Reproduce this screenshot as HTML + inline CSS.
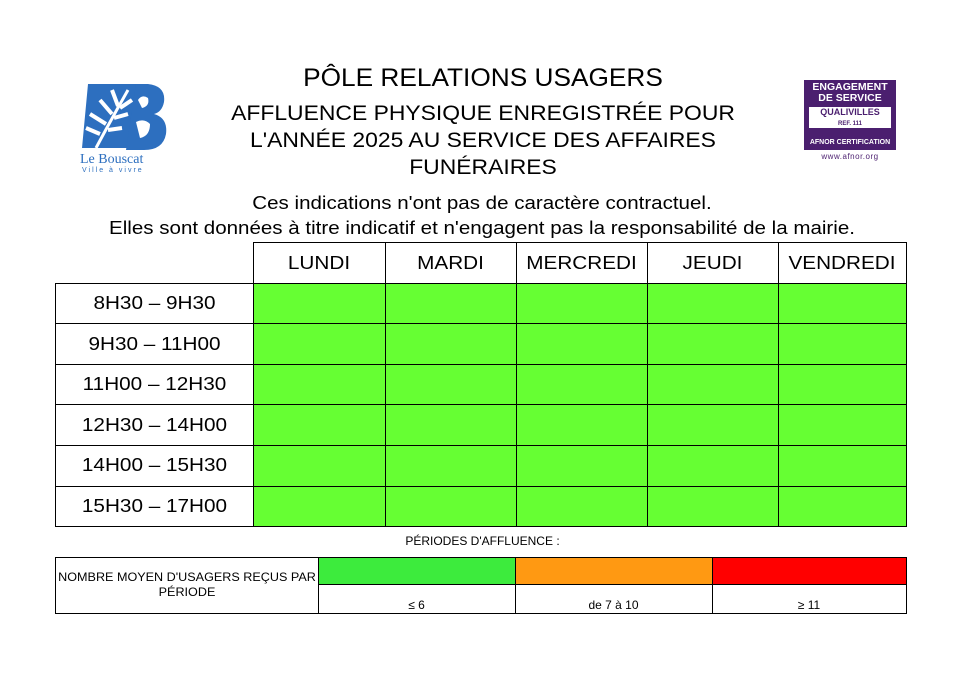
<!DOCTYPE html><html><head><meta charset="utf-8"><style>
body{margin:0;width:964px;height:681px;background:#fff;position:relative;font-family:"Liberation Sans",Arial,sans-serif;color:#000;overflow:hidden}
.a{position:absolute}
.c{position:absolute;text-align:center}
.s{transform:scaleX(1.12)}
.g{position:absolute;background:#66ff33}
.h{position:absolute;background:#000}
</style></head><body>
<div class="c" style="left:200px;width:566px;top:64px;font-size:25px;transform:scaleX(1.05)">PÔLE RELATIONS USAGERS</div>
<div class="c" style="left:200px;width:566px;top:100px;font-size:21.5px;line-height:27px;transform:scaleX(1.065)">AFFLUENCE PHYSIQUE ENREGISTRÉE POUR<br>L'ANNÉE 2025 AU SERVICE DES AFFAIRES<br>FUNÉRAIRES</div>
<div class="c" style="left:0;width:964px;top:190px;font-size:18.5px;line-height:25px;transform:scaleX(1.11)">Ces indications n'ont pas de caractère contractuel.<br>Elles sont données à titre indicatif et n'engagent pas la responsabilité de la mairie.</div>
<!-- logo left -->
<svg class="a" style="left:78px;top:78px" width="90" height="95">
<path d="M10 6 L60 6 L50 70 L4 70 Z" fill="#2d6fbf"/>
<path d="M58 6 L70 6 Q88 8 86 24 Q84 34 76 36 Q90 40 88 56 Q85 72 66 72 L48 72 Z" fill="#2d6fbf"/>
<path d="M60 22 Q64 16 70 20 Q72 28 64 30 Z M58 44 Q66 40 72 46 Q72 58 62 60 Z" fill="#fff"/>
<path d="M18 70 Q34 40 50 12" stroke="#fff" stroke-width="3" fill="none"/>
<path d="M22 56 L8 50 M28 46 L12 36 M34 36 L22 22 M40 28 L34 12 M30 52 L44 50 M36 40 L50 36 M42 30 L54 22" stroke="#fff" stroke-width="4"/>
<text x="2" y="85" font-family="Liberation Serif" font-size="14" fill="#2d6fbf">Le Bouscat</text>
<text x="4" y="94" font-family="Liberation Sans" font-size="7" fill="#2d6fbf" letter-spacing="2">Ville à vivre</text>
</svg>
<!-- afnor -->
<div class="a" style="left:804px;top:80px;width:92px;height:70px;background:#4b1f6f"></div>
<div class="c" style="left:804px;top:82px;width:92px;color:#fff;font-size:10.5px;font-weight:bold;line-height:11px">ENGAGEMENT<br>DE SERVICE</div>
<div class="c" style="left:809px;top:107px;width:82px;height:21px;background:#fff;color:#4b1f6f;font-size:9px;font-weight:bold;line-height:10px">QUALIVILLES<br><span style="font-size:6px">REF. 111</span></div>
<div class="c" style="left:804px;top:139px;width:92px;color:#fff;font-size:7px;font-weight:bold">AFNOR CERTIFICATION</div>
<div class="c" style="left:804px;top:152px;width:92px;color:#4b1f6f;font-size:8px;letter-spacing:0.5px">www.afnor.org</div>
<!-- main table -->
<div class="g" style="left:253px;top:283px;width:653px;height:243px"></div>
<div class="h" style="left:253px;top:242px;width:654px;height:1px"></div>
<div class="h" style="left:56px;top:283px;width:851px;height:1px"></div>
<div class="h" style="left:56px;top:323px;width:851px;height:1px"></div>
<div class="h" style="left:56px;top:364px;width:851px;height:1px"></div>
<div class="h" style="left:56px;top:404px;width:851px;height:1px"></div>
<div class="h" style="left:56px;top:445px;width:851px;height:1px"></div>
<div class="h" style="left:56px;top:486px;width:851px;height:1px"></div>
<div class="h" style="left:56px;top:526px;width:851px;height:1px"></div>
<div class="h" style="left:55px;top:283px;width:1px;height:244px"></div>
<div class="h" style="left:253px;top:242px;width:1px;height:285px"></div>
<div class="h" style="left:385px;top:242px;width:1px;height:285px"></div>
<div class="h" style="left:516px;top:242px;width:1px;height:285px"></div>
<div class="h" style="left:647px;top:242px;width:1px;height:285px"></div>
<div class="h" style="left:778px;top:242px;width:1px;height:285px"></div>
<div class="h" style="left:906px;top:242px;width:1px;height:285px"></div>
<div style="font-size:18.5px">
<div class="c s" style="left:253px;width:132px;top:252px">LUNDI</div>
<div class="c s" style="left:385px;width:131px;top:252px">MARDI</div>
<div class="c s" style="left:516px;width:131px;top:252px">MERCREDI</div>
<div class="c s" style="left:647px;width:131px;top:252px">JEUDI</div>
<div class="c s" style="left:778px;width:128px;top:252px">VENDREDI</div>
<div class="c s" style="left:56px;width:197px;top:292px">8H30 – 9H30</div>
<div class="c s" style="left:56px;width:197px;top:333px">9H30 – 11H00</div>
<div class="c s" style="left:56px;width:197px;top:373px">11H00 – 12H30</div>
<div class="c s" style="left:56px;width:197px;top:414px">12H30 – 14H00</div>
<div class="c s" style="left:56px;width:197px;top:454px">14H00 – 15H30</div>
<div class="c s" style="left:56px;width:197px;top:495px">15H30 – 17H00</div>
</div>
<!-- legend -->
<div class="c" style="left:300px;width:365px;top:534px;font-size:12px">PÉRIODES D'AFFLUENCE :</div>
<div class="a" style="left:318px;top:557px;width:197px;height:27px;background:#3deb3d"></div>
<div class="a" style="left:515px;top:557px;width:197px;height:27px;background:#ff9912"></div>
<div class="a" style="left:712px;top:557px;width:194px;height:27px;background:#ff0000"></div>
<div class="h" style="left:56px;top:557px;width:851px;height:1px"></div>
<div class="h" style="left:318px;top:584px;width:589px;height:1px"></div>
<div class="h" style="left:56px;top:613px;width:851px;height:1px"></div>
<div class="h" style="left:55px;top:557px;width:1px;height:57px"></div>
<div class="h" style="left:318px;top:557px;width:1px;height:57px"></div>
<div class="h" style="left:515px;top:557px;width:1px;height:57px"></div>
<div class="h" style="left:712px;top:557px;width:1px;height:57px"></div>
<div class="h" style="left:906px;top:557px;width:1px;height:57px"></div>
<div class="c" style="left:56px;width:262px;top:570px;font-size:12px;line-height:15px;transform:scaleX(1.05)">NOMBRE MOYEN D'USAGERS REÇUS PAR<br>PÉRIODE</div>
<div class="c" style="left:318px;width:197px;top:598px;font-size:12px">≤ 6</div>
<div class="c" style="left:515px;width:197px;top:598px;font-size:12px">de 7 à 10</div>
<div class="c" style="left:712px;width:194px;top:598px;font-size:12px">≥ 11</div>
</body></html>
